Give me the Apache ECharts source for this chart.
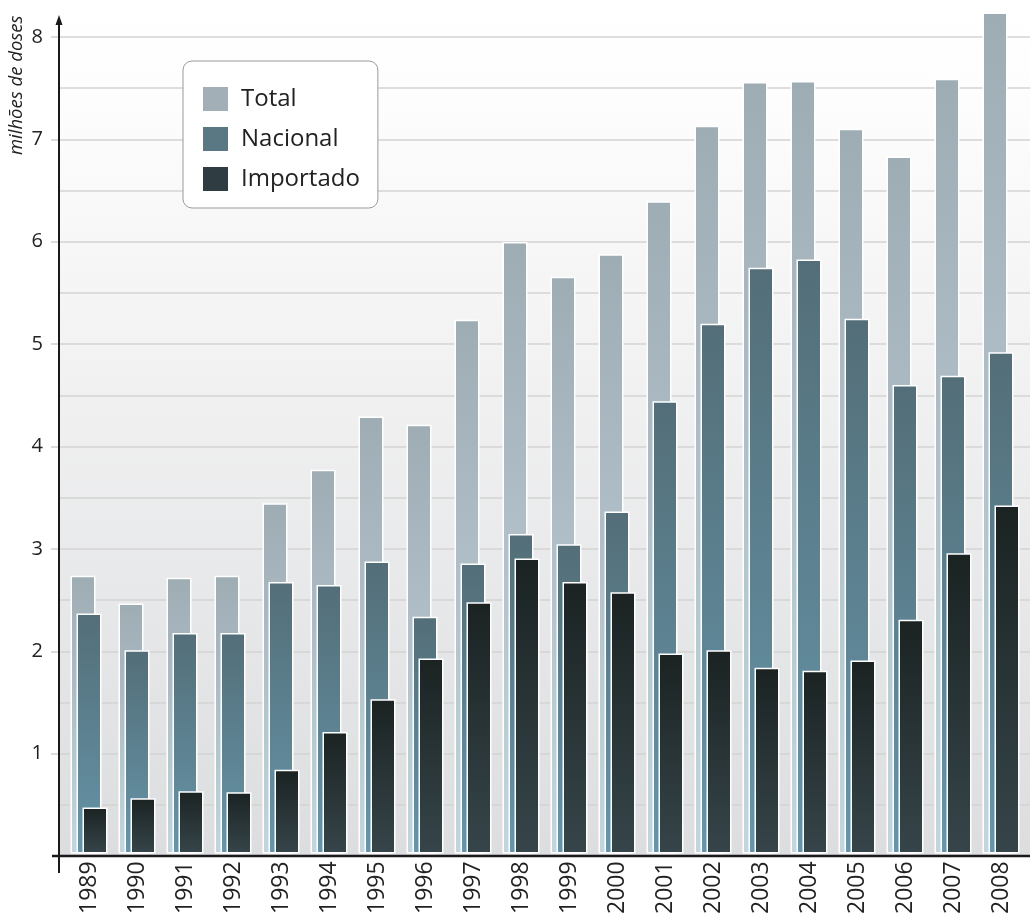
<!DOCTYPE html>
<html>
<head>
<meta charset="utf-8">
<script src="https://cdn.jsdelivr.net/npm/echarts@6/dist/echarts.min.js"></script>
<style>
  html, body { margin: 0; padding: 0; background: #fff; }
  #chart { width: 1030px; height: 917px; }
</style>
</head>
<body>
<div id="chart"></div>
<script>
// Doses distribuídas por ano (milhões de doses)
const years = ['1989','1990','1991','1992','1993','1994','1995','1996','1997','1998',
               '1999','2000','2001','2002','2003','2004','2005','2006','2007','2008'];
const total = [2.72, 2.45, 2.70, 2.72, 3.43, 3.76, 4.28, 4.20, 5.23, 5.99,
               5.65, 5.87, 6.39, 7.13, 7.56, 7.57, 7.10, 6.83, 7.59, 8.24];
const nacional = [2.35, 1.99, 2.16, 2.16, 2.66, 2.63, 2.86, 2.32, 2.84, 3.13,
                  3.03, 3.35, 4.43, 5.19, 5.74, 5.82, 5.24, 4.59, 4.68, 4.91];
const importado = [0.45, 0.54, 0.61, 0.60, 0.82, 1.19, 1.51, 1.91, 2.46, 2.89,
                   2.66, 2.56, 1.96, 1.99, 1.82, 1.79, 1.89, 2.29, 2.94, 3.41];
const seriesNames = ['Total', 'Nacional', 'Importado'];
const yMin = 0, yMax = 8, yStep = 1;

const FONT = '"Open Sans", "Noto Sans", sans-serif';
const TOP = 37, BASE = 856, AXIS_X = 59, W = 1030, H = 917;

function vgrad(top, bottom) {
  return new echarts.graphic.LinearGradient(0, 0, 0, 1, [
    { offset: 0, color: top }, { offset: 1, color: bottom }
  ]);
}
const fills = [
  vgrad('#9eacb4', '#c4d5dd'),
  vgrad('#536e78', '#6695a9'),
  vgrad('#1b2322', '#36454a')
];
const swatches = ['#a2afb6', '#5a7883', '#2f3c41'];
const seriesData = [total, nacional, importado];

const chart = echarts.init(document.getElementById('chart'), null, { renderer: 'canvas' });

const option = {
  animation: false,
  backgroundColor: '#ffffff',
  textStyle: { fontFamily: FONT },
  grid: [
    // full-width frame for the value scale and gridlines
    { left: AXIS_X, right: 0, top: TOP, height: BASE - TOP },
    // category band for the bars
    { left: 65, width: 960, top: TOP, height: BASE - TOP }
  ],
  xAxis: [
    { gridIndex: 0, type: 'value', min: 0, max: 1, show: false },
    {
      gridIndex: 1, type: 'category', data: years,
      axisLine: { show: false }, axisTick: { show: false },
      axisLabel: {
        rotate: 90, fontSize: 23, color: '#222', margin: 8,
        fontFamily: FONT, padding: [0, 0, 10, 0]
      }
    }
  ],
  yAxis: [
    {
      gridIndex: 0, type: 'value', min: yMin, max: yMax, interval: yStep,
      axisLine: { show: false },
      axisTick: { show: true, length: 8, lineStyle: { color: '#cfcfcf', width: 1.5 } },
      axisLabel: { fontSize: 20, color: '#222', margin: 16, fontFamily: FONT, showMinLabel: false },
      splitLine: { show: true, lineStyle: { color: '#d3d3d3', width: 1.5 } },
      minorTick: { show: false, splitNumber: 2 },
      minorSplitLine: { show: true, lineStyle: { color: '#d3d3d3', width: 1.5 } }
    },
    { gridIndex: 1, type: 'value', min: yMin, max: yMax, show: false }
  ],
  legend: {
    orient: 'vertical', left: 183, top: 61,
    padding: [26, 18, 17, 20], itemGap: 16,
    itemWidth: 25, itemHeight: 24, icon: 'rect',
    backgroundColor: '#ffffff', borderColor: '#9a9a9a', borderWidth: 1, borderRadius: 9,
    textStyle: { fontSize: 24, color: '#222', fontFamily: FONT, padding: [0, 0, 0, 8] },
    data: seriesNames.map((n, i) => ({
      name: n, itemStyle: { color: swatches[i], borderWidth: 0 }
    }))
  },
  series: seriesNames.map((n, i) => ({
    name: n, type: 'bar', xAxisIndex: 1, yAxisIndex: 1,
    data: seriesData[i],
    barWidth: 25, barGap: '-76%', clip: false,
    itemStyle: { color: fills[i], borderColor: '#ffffff', borderWidth: 1.5 },
    emphasis: { disabled: true }
  })),
  graphic: [
    {
      type: 'rect', z: -100, silent: true,
      shape: { x: AXIS_X, y: 0, width: W - AXIS_X, height: BASE },
      style: {
        fill: new echarts.graphic.LinearGradient(0, 0, 0, 1, [
          { offset: 0, color: '#ffffff' },
          { offset: 0.12, color: '#fdfdfd' },
          { offset: 1, color: '#dcdddf' }
        ])
      }
    },
    {
      type: 'line', z: 100, silent: true,
      shape: { x1: AXIS_X, y1: 873, x2: AXIS_X, y2: 24 },
      style: { stroke: '#1a1a1a', lineWidth: 2 }
    },
    {
      type: 'polygon', z: 100, silent: true,
      shape: { points: [[AXIS_X, 15], [AXIS_X - 3.5, 25], [AXIS_X + 3.5, 25]] },
      style: { fill: '#1a1a1a' }
    },
    {
      type: 'line', z: 100, silent: true,
      shape: { x1: 52, y1: BASE, x2: W, y2: BASE },
      style: { stroke: '#1a1a1a', lineWidth: 2.5 }
    },
    {
      type: 'text', z: 100, silent: true,
      x: 17, y: 155, rotation: Math.PI / 2,
      style: {
        text: 'milhões de doses', fill: '#222',
        fontSize: 18.5, fontStyle: 'italic', fontFamily: FONT,
        align: 'left', verticalAlign: 'middle'
      }
    }
  ]
};

chart.setOption(option);
</script>
</body>
</html>
